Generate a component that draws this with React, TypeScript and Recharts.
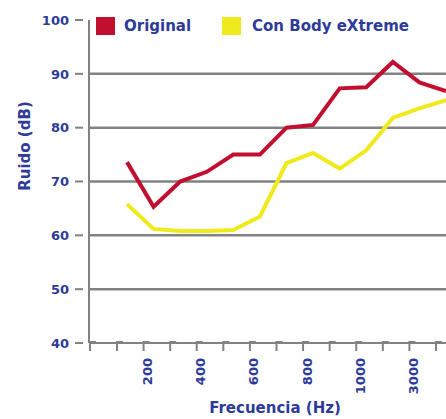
import React from 'react';
import { LineChart, Line, XAxis, YAxis, ReferenceLine, Legend } from 'recharts';

const frequencies = [100, 200, 300, 400, 500, 600, 700, 800, 900, 1000, 2000, 3000, 4000];
const original = [73.6, 65.3, 70, 71.8, 75, 75, 80, 80.5, 87.3, 87.5, 92.2, 88.4, 86.8];
const conBody = [65.8, 61.2, 60.8, 60.8, 61, 63.5, 73.4, 75.3, 72.4, 75.8, 81.8, 83.6, 85.1];
const yTicks = [40, 50, 60, 70, 80, 90, 100];
const gridValues = [50, 60, 70, 80, 90];
const xTickLabels = ['200', '400', '600', '800', '1000', '3000'];
const seriesNames = ['Original', 'Con Body eXtreme'];

const data = frequencies.map((f, i) => ({ f, original: original[i], conBody: conBody[i] }));

const FONT = '"DejaVu Sans", Verdana, sans-serif';
const TEXT = '#2e3b98';
const GRAY = '#828282';

const YTick = (props: any) => {
  const { x, y, payload } = props;
  return (
    <g>
      <line x1={x - 14} x2={x - 6} y1={y} y2={y} stroke={GRAY} strokeWidth={2} />
      {payload.value === 40 && (
        <path d={`M${x + 7},${y - 1} L${x + 1},${y - 1} L${x + 1},${y + 8}`} fill="none" stroke={GRAY} strokeWidth={2} />
      )}
      <text
        x={x - 20}
        y={y + 4.7}
        textAnchor="end"
        fontFamily={FONT}
        fontWeight="bold"
        fontSize={13}
        fill={TEXT}
      >
        {payload.value}
      </text>
    </g>
  );
};

const XTick = (props: any) => {
  const { x, y, payload } = props;
  const label = String(payload.value);
  const show = xTickLabels.includes(label);
  return (
    <g>
      <path d={`M${x - 4},${y - 1} L${x - 10},${y - 1} L${x - 10},${y + 8}`} fill="none" stroke={GRAY} strokeWidth={2} />
      {show && (
        <text
          x={0}
          y={0}
          transform={`translate(${x - 1.5},${y + 15}) rotate(-90)`}
          textAnchor="end"
          fontFamily={FONT}
          fontWeight="bold"
          fontSize={13}
          fill={TEXT}
        >
          {label}
        </text>
      )}
    </g>
  );
};

const YTitle = (props: any) => {
  const vb = props.viewBox || { x: 0, y: 20 };
  const tx = vb.x + 30;
  const ty = vb.y + 126;
  return (
    <text
      x={0}
      y={0}
      transform={`translate(${tx},${ty}) rotate(-90)`}
      textAnchor="middle"
      fontFamily={FONT}
      fontWeight="bold"
      fontSize={15}
      fill={TEXT}
    >
      Ruido (dB)
    </text>
  );
};

const XTitle = (props: any) => {
  const vb = props.viewBox || { x: 89, y: 343 };
  return (
    <text
      x={vb.x + 186}
      y={vb.y + 70}
      textAnchor="middle"
      fontFamily={FONT}
      fontWeight="bold"
      fontSize={15}
      fill={TEXT}
    >
      Frecuencia (Hz)
    </text>
  );
};

const legendLeft = [96, 222];

const LegendContent = (props: any) => {
  const payload = props.payload || [];
  const ordered = seriesNames
    .map((n) => payload.find((p: any) => p.value === n))
    .filter(Boolean);
  return (
    <div style={{ position: 'relative', width: 446, height: 40 }}>
      {ordered.map((p: any, i: number) => (
        <div key={i} style={{ position: 'absolute', left: legendLeft[i], top: 17, display: 'flex', alignItems: 'center' }}>
          <div style={{ width: 19, height: 18, background: p.color }} />
          <span
            style={{
              marginLeft: i === 0 ? 9 : 11,
              fontFamily: FONT,
              fontWeight: 'bold',
              fontSize: 15,
              color: TEXT,
              lineHeight: '18px',
              whiteSpace: 'nowrap',
            }}
          >
            {p.value}
          </span>
        </div>
      ))}
    </div>
  );
};

export default function App() {
  return (
    <div style={{ position: 'absolute', left: 0, top: 0, width: 446, height: 419, overflow: 'hidden', background: '#fff' }}>
      <LineChart width={480} height={419} data={data} margin={{ top: 20, right: 14, bottom: 0, left: 0 }}>
        <XAxis
          dataKey="f"
          type="category"
          interval={0}
          padding={{ left: 38, right: 20 }}
          height={76}
          tickSize={0}
          tickMargin={0}
          tickLine={false}
          axisLine={{ stroke: GRAY, strokeWidth: 2 }}
          tick={<XTick />}
          label={<XTitle />}
        />
        <YAxis
          type="number"
          domain={[40, 100]}
          ticks={yTicks}
          interval={0}
          width={89}
          tickSize={0}
          tickMargin={0}
          tickLine={false}
          axisLine={{ stroke: GRAY, strokeWidth: 2 }}
          tick={<YTick />}
          label={<YTitle />}
        />
        {gridValues.map((v) => (
          <ReferenceLine key={v} y={v} stroke={GRAY} strokeWidth={2.5} ifOverflow="visible" />
        ))}
        <Legend
          verticalAlign="middle"
          align="center"
          layout="horizontal"
          wrapperStyle={{ top: 0, left: 0, width: 446, height: 40 }}
          content={<LegendContent />}
        />
        <Line
          type="linear"
          dataKey="original"
          name="Original"
          stroke="#c20e2f"
          strokeWidth={4}
          dot={false}
          activeDot={false}
          isAnimationActive={false}
        />
        <Line
          type="linear"
          dataKey="conBody"
          name="Con Body eXtreme"
          stroke="#eeea1c"
          strokeWidth={4}
          dot={false}
          activeDot={false}
          isAnimationActive={false}
        />
      </LineChart>
    </div>
  );
}
